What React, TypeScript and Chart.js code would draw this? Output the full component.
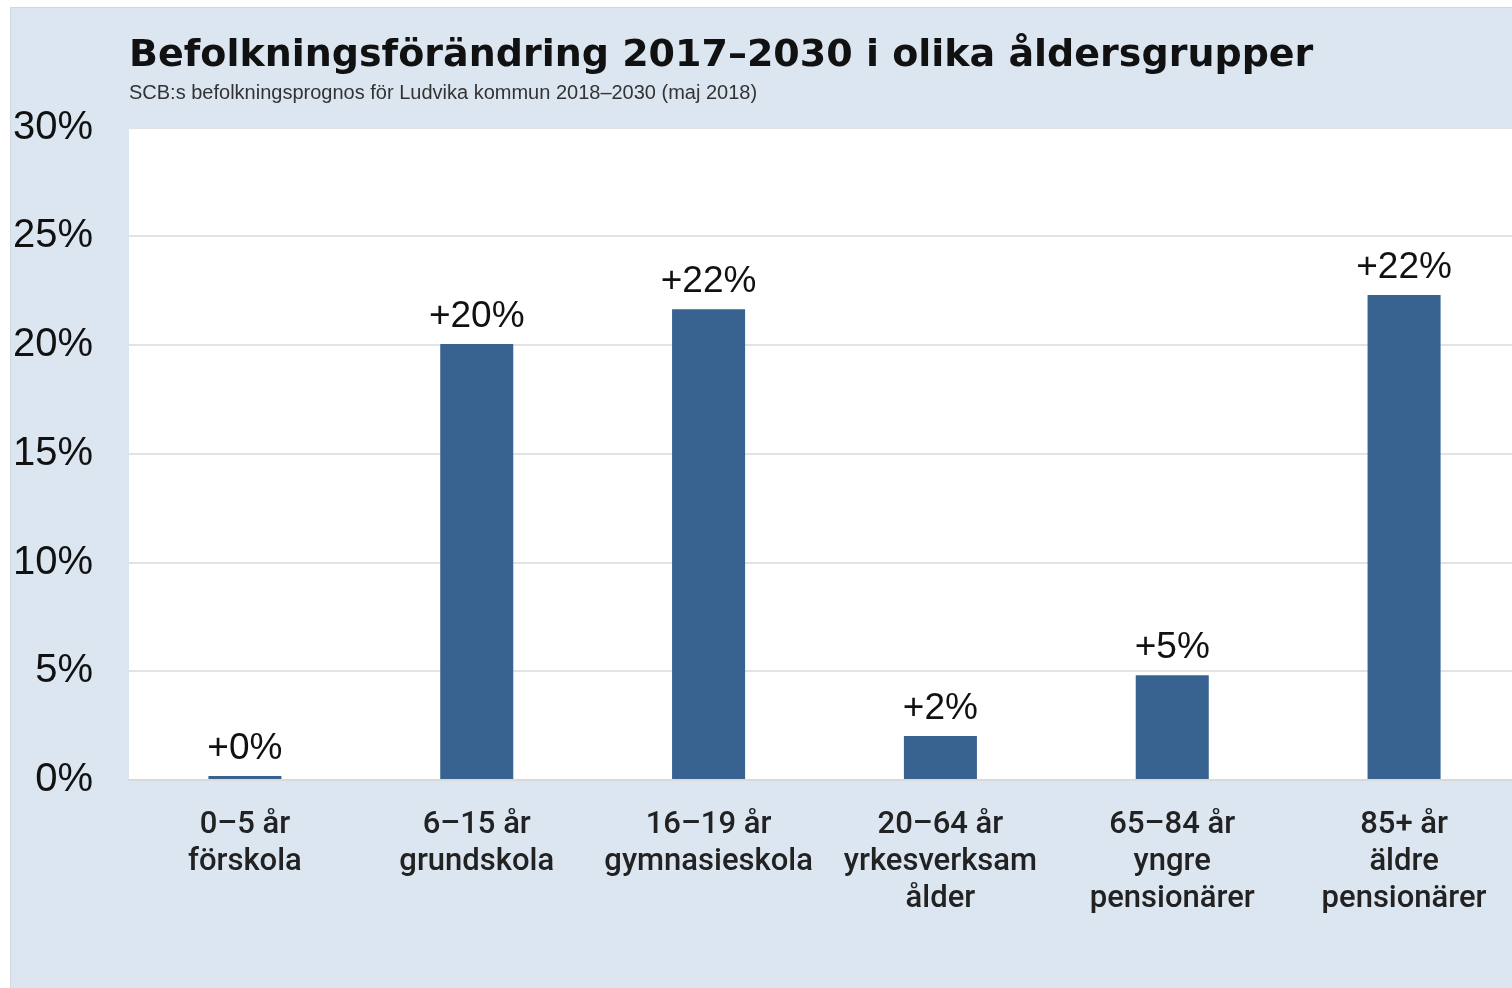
import React, { useEffect, useRef } from "react";
import { Chart, registerables } from "chart.js";

Chart.register(...registerables);

const TITLE = "Befolkningsförändring 2017–2030 i olika åldersgrupper";
const SUBTITLE = "SCB:s befolkningsprognos för Ludvika kommun 2018–2030 (maj 2018)";

const categories: string[][] = [
  ["0–5 år", "förskola"],
  ["6–15 år", "grundskola"],
  ["16–19 år", "gymnasieskola"],
  ["20–64 år", "yrkesverksam", "ålder"],
  ["65–84 år", "yngre", "pensionärer"],
  ["85+ år", "äldre", "pensionärer"],
];

const values: number[] = [0.18, 20.05, 21.65, 2.02, 4.82, 22.3];
const dataLabels: string[] = ["+0%", "+20%", "+22%", "+2%", "+5%", "+22%"];
const yTicks: number[] = [0, 5, 10, 15, 20, 25, 30];

const PANEL_BG = "#dce6f1";
const BAR_COLOR = "#386290";
const FONT = "'Liberation Sans', Arial, sans-serif";

const plotBgPlugin = {
  id: "plotBg",
  beforeDraw(chart: any) {
    const { ctx, chartArea } = chart;
    ctx.save();
    ctx.fillStyle = "#ffffff";
    ctx.fillRect(chartArea.left, chartArea.top, chartArea.right - chartArea.left, chartArea.bottom - chartArea.top);
    ctx.restore();
  },
};

const valueLabelPlugin = {
  id: "valueLabels",
  afterDatasetsDraw(chart: any) {
    const { ctx } = chart;
    const meta = chart.getDatasetMeta(0);
    ctx.save();
    ctx.font = `37px ${FONT}`;
    ctx.fillStyle = "#111111";
    ctx.textAlign = "center";
    ctx.textBaseline = "alphabetic";
    meta.data.forEach((bar: any, i: number) => {
      ctx.fillText(dataLabels[i], bar.x, bar.y - 17);
    });
    ctx.restore();
  },
};

export default function App() {
  const canvasRef = useRef<HTMLCanvasElement | null>(null);

  useEffect(() => {
    if (!canvasRef.current) return;
    const chart = new Chart(canvasRef.current, {
      type: "bar",
      data: {
        labels: categories,
        datasets: [
          {
            data: values,
            backgroundColor: BAR_COLOR,
            barPercentage: 0.315,
            categoryPercentage: 1,
          },
        ],
      },
      options: {
        animation: false,
        responsive: false,
        devicePixelRatio: 1,
        layout: { padding: { top: 0, left: 0, right: 0, bottom: 0 } },
        plugins: {
          legend: { display: false },
          tooltip: { enabled: false },
          title: {
            display: true,
            text: TITLE,
            align: "start",
            fullSize: false,
            color: "#111111",
            font: { family: "'DejaVu Sans', sans-serif", size: 38, weight: "bold" },
            padding: { top: 26, bottom: 0 },
          },
          subtitle: {
            display: true,
            text: SUBTITLE,
            align: "start",
            fullSize: false,
            color: "#333333",
            font: { family: FONT, size: 20 },
            padding: { top: 3, bottom: 22 },
          },
        },
        scales: {
          x: {
            grid: { display: false, drawTicks: false },
            border: { display: true, color: "#d9d9d9", width: 2 },
            ticks: {
              color: "#222222",
              font: { family: "Roboto, " + FONT, size: 31, weight: "500", lineHeight: 1.19 },
              padding: 27,
              maxRotation: 0,
              autoSkip: false,
            },
            afterFit(scale: any) {
              scale.height = 208;
            },
          },
          y: {
            min: 0,
            max: 30,
            afterBuildTicks(scale: any) {
              scale.ticks = yTicks.map((v) => ({ value: v }));
            },
            grid: { color: "#e3e3e3", lineWidth: 2, drawTicks: false },
            border: { display: false },
            ticks: {
              color: "#111111",
              font: { family: FONT, size: 40 },
              padding: 36,
              callback: (v: any) => `${v}%`,
            },
            afterFit(scale: any) {
              scale.width = 119;
            },
          },
        },
      },
      plugins: [plotBgPlugin, valueLabelPlugin],
    });
    return () => chart.destroy();
  }, []);

  return (
    <div style={{ position: "fixed", left: 0, top: 0, width: 1512, height: 988, background: "#ffffff", overflow: "hidden" }}>
      <div
        style={{
          position: "absolute",
          left: 10,
          top: 7,
          width: 1510,
          height: 981,
          background: PANEL_BG,
          borderTop: "1px solid #d3d8de",
          borderLeft: "1px solid #d3d8de",
          boxSizing: "border-box",
        }}
      >
        <canvas ref={canvasRef} width={1510} height={981} style={{ display: "block", position: "absolute", left: -1, top: -1 }} />
      </div>
    </div>
  );
}
